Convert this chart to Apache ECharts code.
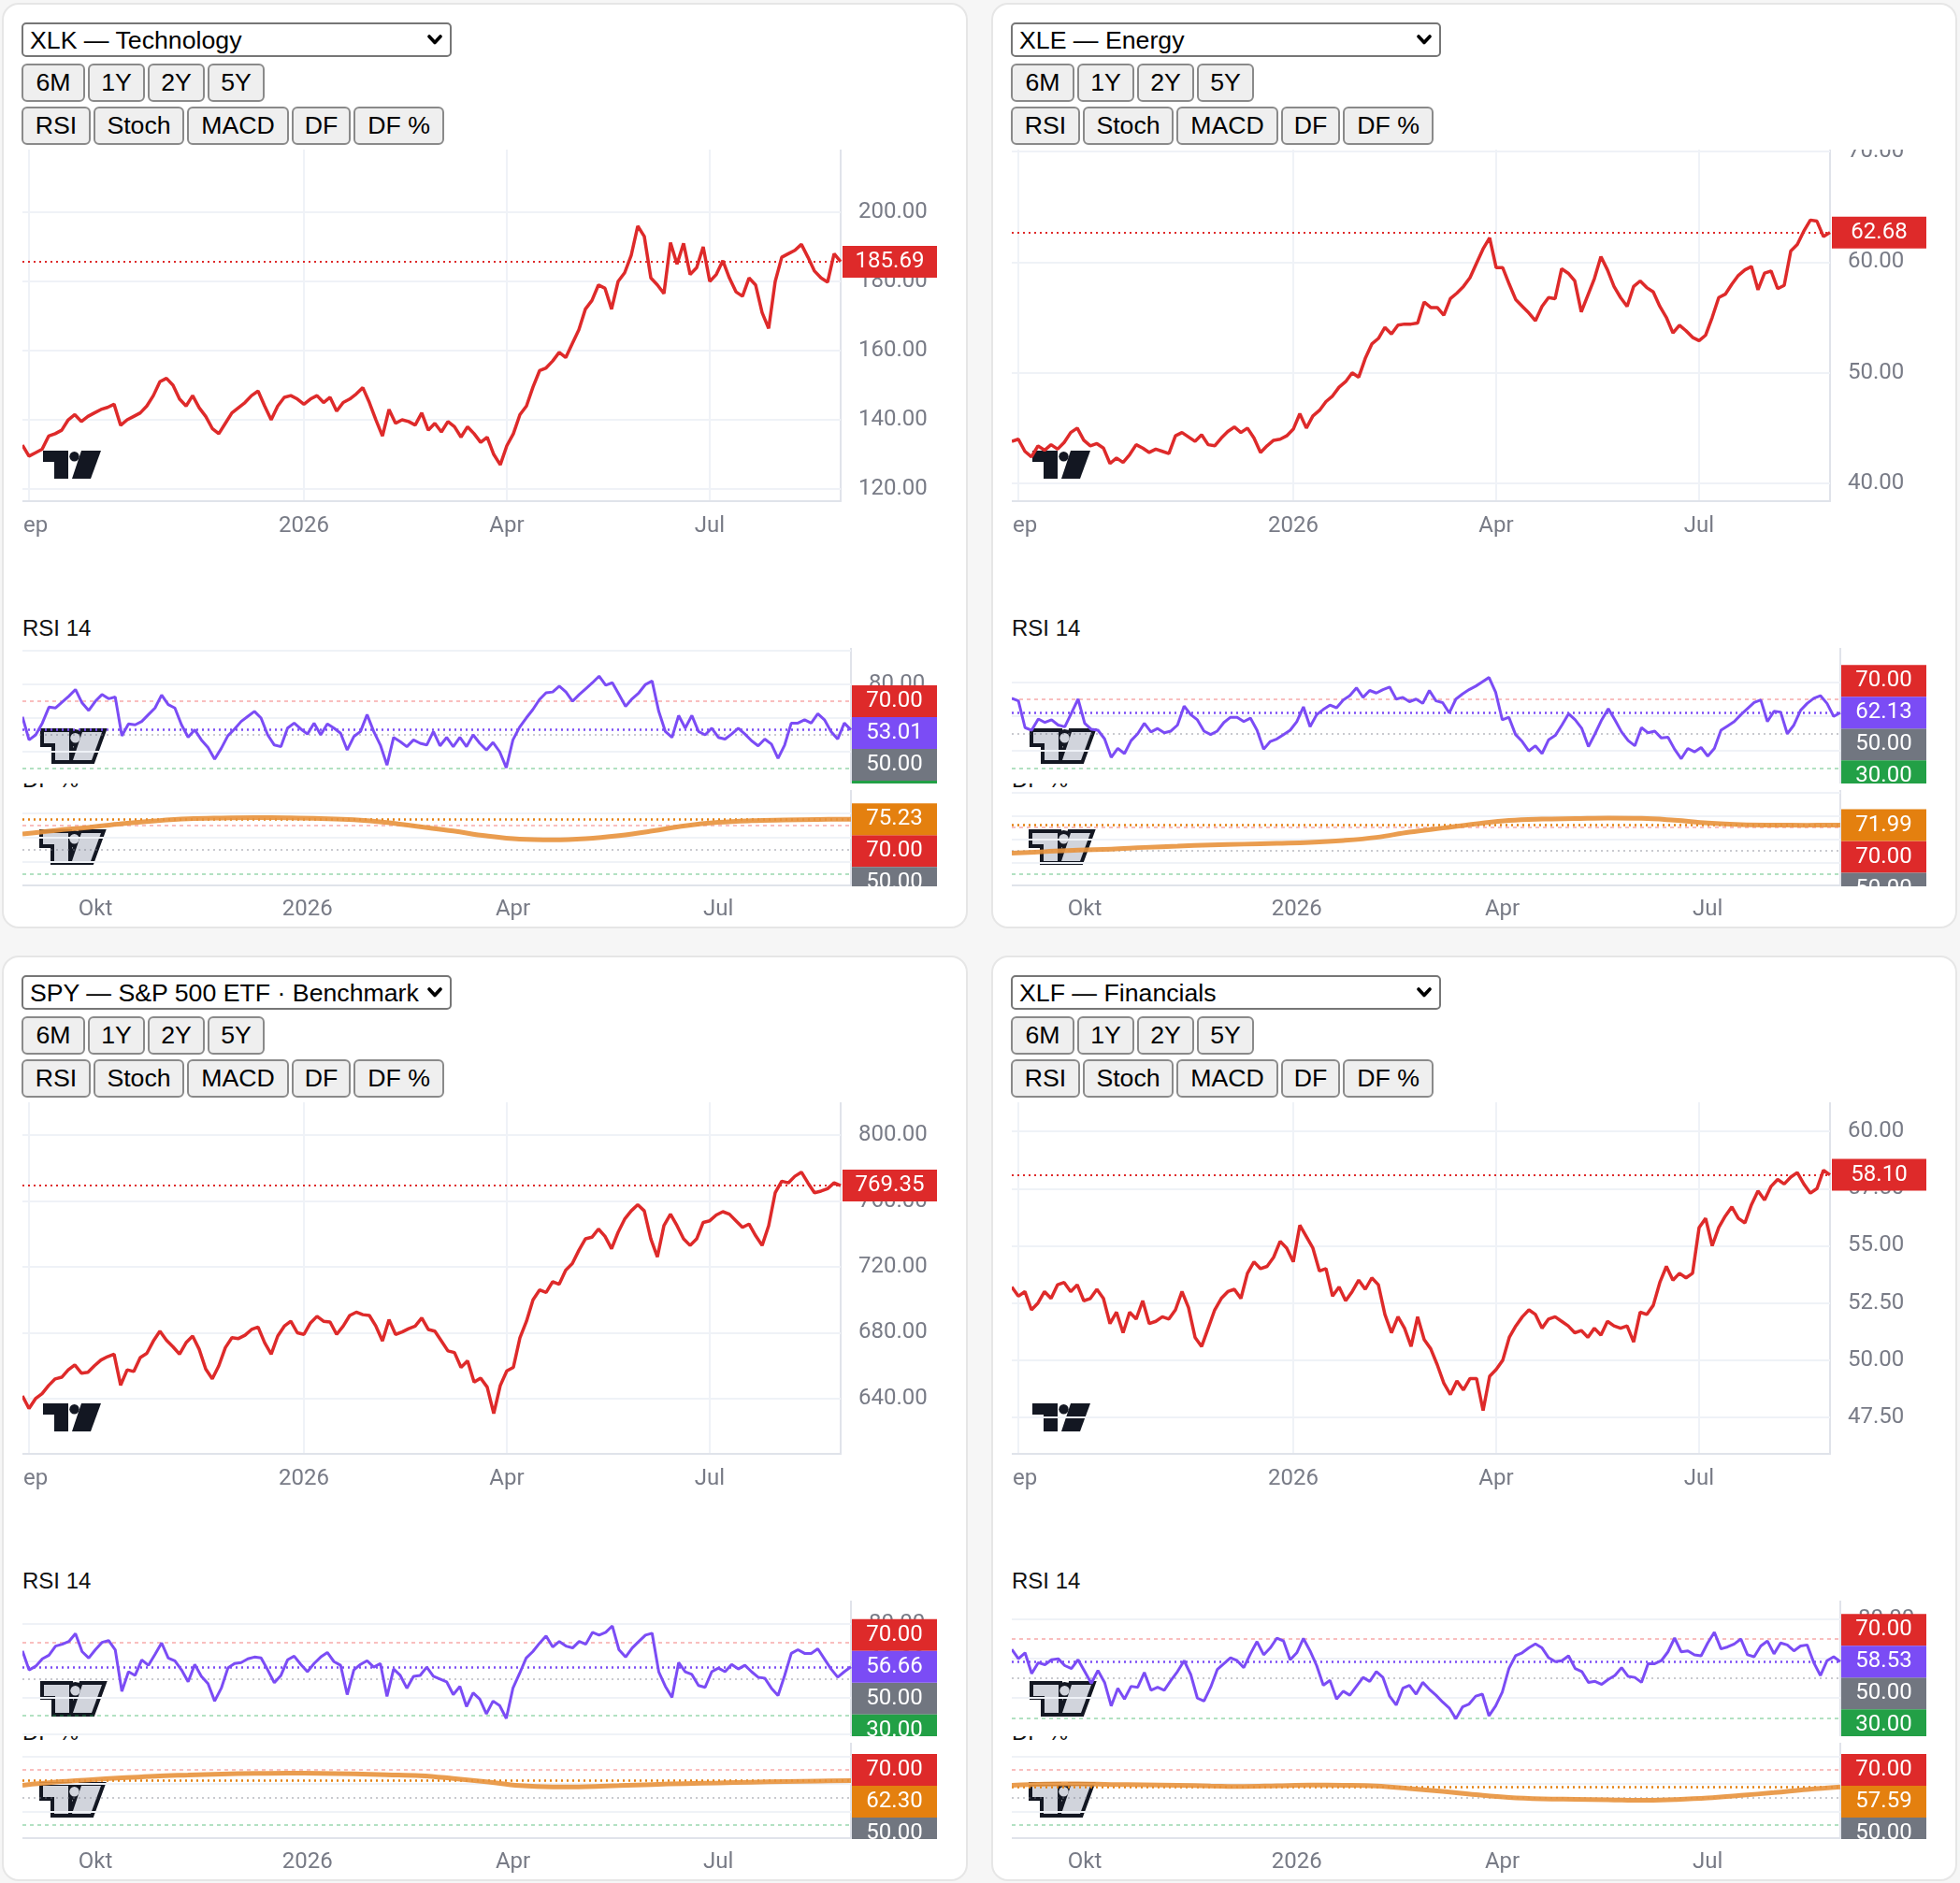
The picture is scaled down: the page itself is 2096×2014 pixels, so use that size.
<!DOCTYPE html>
<html lang="de">
<head>
<meta charset="utf-8">
<title>Sector ETF dashboard</title>
<script src="https://cdn.jsdelivr.net/npm/echarts@6.0.0/dist/echarts.min.js"></script>
<style>
  html, body { margin:0; padding:0; width:2096px; height:2014px; overflow:hidden; background:#f6f6f6; font-family:"Liberation Sans", Arial, sans-serif; }
  .card { position:absolute; width:1029px; height:986px; background:#fff; border:2px solid #e6e6e6; border-radius:18px; overflow:hidden; }
  .sel { position:absolute; left:19px; top:19px; width:460px; height:37px; box-sizing:border-box; font-family:"Liberation Sans", Arial, sans-serif; font-size:26.7px; color:#000;
         border:2px solid #767676; border-radius:5px; padding:0 30px 0 7px; -webkit-appearance:none; appearance:none;
         background:#fff url("data:image/svg+xml;utf8,<svg xmlns='http://www.w3.org/2000/svg' width='16' height='11' viewBox='0 0 16 11'><path d='M2 2 L8 8.5 L14 2' fill='none' stroke='black' stroke-width='3.6' stroke-linecap='round' stroke-linejoin='round'/></svg>") no-repeat right 8px center; }
  .row { position:absolute; left:19px; display:flex; gap:3px; }
  .row button { height:41px; box-sizing:border-box; padding:0; font-family:"Liberation Sans", Arial, sans-serif; font-size:26.7px; color:#000; background:#efefef; border:2px solid #8a8a8a; border-radius:6px; }
  .r1 { top:63px; } .r2 { top:109px; }
  .ttl { position:absolute; left:20px; font-size:24px; line-height:24px; color:#111; z-index:1; white-space:nowrap; }
  .t-rsi { top:655px; } .t-df { top:817px; }
  .ch { position:absolute; left:20px; background:#fff; z-index:2; }
  .c-main { top:155px; width:1010px; height:440px; }
  .c-rsi { top:688px; width:990px; height:145px; }
  .c-df { top:840px; width:990px; height:146px; }
</style>
</head>
<body>

<div class="card" style="left:2px;top:3px;">
  <select class="sel"><option>XLK — Technology</option></select>
  <div class="row r1"><button style="width:68px">6M</button><button style="width:61px">1Y</button><button style="width:61px">2Y</button><button style="width:61px">5Y</button></div>
  <div class="row r2"><button style="width:74px">RSI</button><button style="width:97px">Stoch</button><button style="width:109px">MACD</button><button style="width:63px">DF</button><button style="width:97px">DF %</button></div>
  <div class="ch c-main" id="xlk-main"></div>
  <div class="ttl t-rsi">RSI 14</div>
  <div class="ch c-rsi" id="xlk-rsi"></div>
  <div class="ttl t-df">DF %</div>
  <div class="ch c-df" id="xlk-df"></div>
</div>

<div class="card" style="left:1060px;top:3px;">
  <select class="sel"><option>XLE — Energy</option></select>
  <div class="row r1"><button style="width:68px">6M</button><button style="width:61px">1Y</button><button style="width:61px">2Y</button><button style="width:61px">5Y</button></div>
  <div class="row r2"><button style="width:74px">RSI</button><button style="width:97px">Stoch</button><button style="width:109px">MACD</button><button style="width:63px">DF</button><button style="width:97px">DF %</button></div>
  <div class="ch c-main" id="xle-main"></div>
  <div class="ttl t-rsi">RSI 14</div>
  <div class="ch c-rsi" id="xle-rsi"></div>
  <div class="ttl t-df">DF %</div>
  <div class="ch c-df" id="xle-df"></div>
</div>

<div class="card" style="left:2px;top:1022px;">
  <select class="sel"><option>SPY — S&amp;P 500 ETF · Benchmark</option></select>
  <div class="row r1"><button style="width:68px">6M</button><button style="width:61px">1Y</button><button style="width:61px">2Y</button><button style="width:61px">5Y</button></div>
  <div class="row r2"><button style="width:74px">RSI</button><button style="width:97px">Stoch</button><button style="width:109px">MACD</button><button style="width:63px">DF</button><button style="width:97px">DF %</button></div>
  <div class="ch c-main" id="spy-main"></div>
  <div class="ttl t-rsi">RSI 14</div>
  <div class="ch c-rsi" id="spy-rsi"></div>
  <div class="ttl t-df">DF %</div>
  <div class="ch c-df" id="spy-df"></div>
</div>

<div class="card" style="left:1060px;top:1022px;">
  <select class="sel"><option>XLF — Financials</option></select>
  <div class="row r1"><button style="width:68px">6M</button><button style="width:61px">1Y</button><button style="width:61px">2Y</button><button style="width:61px">5Y</button></div>
  <div class="row r2"><button style="width:74px">RSI</button><button style="width:97px">Stoch</button><button style="width:109px">MACD</button><button style="width:63px">DF</button><button style="width:97px">DF %</button></div>
  <div class="ch c-main" id="xlf-main"></div>
  <div class="ttl t-rsi">RSI 14</div>
  <div class="ch c-rsi" id="xlf-rsi"></div>
  <div class="ttl t-df">DF %</div>
  <div class="ch c-df" id="xlf-df"></div>
</div>

<script>
// ---------- calendar / categories ----------
const START_DATE = '2025-08-29';
const MARKET_HOLIDAYS = ['2025-09-01','2025-11-27','2025-12-25','2026-01-01','2026-01-19','2026-02-16','2026-04-03','2026-05-25','2026-06-19','2026-07-03'];
const TRADING_DAYS = 252;
const SAMPLE_STEP = 2;      // one reading every 2nd trading day
const DF_STEP = 5;          // DF % read every 5th sample
const MAIN_TICK_MONTHS  = ['2025-09','2026-01','2026-04','2026-07'];
const LOWER_TICK_MONTHS = ['2025-10','2026-01','2026-04','2026-07'];
const MONTH_NAMES = ['Jan','Feb','Mär','Apr','Mai','Jun','Jul','Aug','Sep','Okt','Nov','Dez'];

// ---------- price series (126 readings each) ----------
const xlkPrice = [132.7,129.5,130.5,131.5,135.3,136,137,140,141.5,139.5,
141,142,143,143.6,144.5,138.4,140,141,142,144,
147,151,152,150,146,144,147,143.5,141,137.5,
136,139,142,143.5,145,147,148.3,144,140,144,
146.5,147,146,144.5,146,147,145,146.5,142.5,145,
146,147.5,149.3,145,140,135.3,143,139,140,139.5,
138.5,142,137,139,136.5,139.5,138,135,138,136,
133.5,135,130,127,132.5,136,141.5,144,149.5,154.2,
155,157,159.5,158,162,166,172,174.5,179,178,
172,180,182.5,187.5,196,193,181,179,176.5,191.2,
185,191,182,184,190,180,182,186,181,177,
175.7,181,179,171,166.4,180,187,188,189,190.7,
187,183,181,179.8,188,185.69];

const xlePrice = [43.8,44.0,42.9,42.4,43.4,43.0,43.5,43.1,43.7,44.6,
45.0,43.9,43.4,43.6,43.2,41.8,42.3,41.9,42.6,43.5,
43.2,42.8,43.1,42.9,42.7,44.3,44.6,44.2,43.8,44.4,
43.5,43.4,44.1,44.7,45.1,44.6,45.0,44.1,42.8,43.4,
43.9,44.0,44.3,44.9,46.3,45.0,46.1,46.6,47.4,47.9,
48.7,49.2,50.0,49.6,51.3,52.6,53.1,54.1,53.5,54.3,
54.4,54.4,54.5,56.4,55.9,55.9,55.2,56.7,57.2,57.8,
58.6,59.9,61.2,62.2,59.5,59.5,58.0,56.6,56.0,55.4,
54.7,56.0,56.8,56.7,59.4,59.0,58.3,55.5,57.0,58.5,
60.5,59.3,57.8,56.8,56.0,57.8,58.3,57.7,57.3,56.0,
55.0,53.6,54.3,53.8,53.2,52.9,53.4,55.0,56.8,57.1,
58.0,58.8,59.3,59.6,57.5,59.0,59.2,57.6,57.9,61.0,
61.6,62.8,63.8,63.7,62.3,62.68];

const spyPrice = [641.7,634.0,640.0,643.0,648.0,652.0,653.0,657.5,660.5,655.5,
656.0,660.0,663.5,665.5,667.0,648.2,657.5,656.5,665.0,667.5,
675.0,681.0,675.5,671.5,667.0,674.0,678.0,670.0,658.0,652.0,
660.0,671.0,677.0,676.5,678.5,682.0,683.5,674.0,667.0,678.0,
684.0,687.0,680.0,679.0,686.0,690.0,687.0,686.5,679.0,684.0,
690.5,692.5,691.0,690.5,684.0,675.0,688.0,679.0,680.5,682.5,
684.0,689.0,682.0,681.0,675.0,669.0,668.0,659.0,663.0,650.0,
652.5,647.0,631.0,648.0,656.9,659.0,677.0,687.0,700.0,706.0,
704.5,711.0,709.5,718.0,722.0,730.0,737.0,738.0,743.0,738.5,
731.0,741.0,749.0,754.0,757.7,754.0,737.0,726.0,745.0,752.0,
745.0,737.0,733.0,737.0,747.0,748.0,751.5,753.5,752.0,748.0,
744.0,746.0,739.0,733.0,745.0,765.0,772.0,771.0,775.0,777.5,
771.0,765.0,766.0,767.5,771.0,769.35];

const xlfPrice = [53.2,52.8,53.0,52.2,52.5,53.0,52.7,53.3,53.4,53.0,
53.3,52.6,52.7,53.1,52.7,51.6,52.1,51.2,52.1,51.8,
52.6,51.6,51.7,51.9,51.8,52.2,53.0,52.3,51.0,50.6,
51.4,52.2,52.7,53.0,53.1,52.7,53.8,54.3,54.0,54.1,
54.5,55.2,54.9,54.3,55.9,55.4,54.9,53.9,54.0,52.8,
53.2,52.6,53.0,53.5,53.1,53.6,53.3,52.0,51.2,51.9,
51.4,50.6,51.9,50.9,50.5,49.8,49.0,48.5,49.1,48.7,
49.2,49.2,47.8,49.3,49.6,50.0,51.0,51.5,51.9,52.2,
52.0,51.4,51.8,51.9,51.7,51.5,51.2,51.3,51.0,51.4,
51.1,51.7,51.5,51.4,51.5,50.8,52.1,52.0,52.4,53.4,
54.1,53.5,53.8,53.6,53.8,55.8,56.2,55.0,55.8,56.3,
56.7,56.2,56.0,56.8,57.4,57.0,57.6,57.9,57.7,58.0,
58.2,57.7,57.3,57.5,58.3,58.10];

// ---------- RSI 14 series ----------
const xlkRsi = [60.7,47.0,50.0,57.0,66.5,66.0,69.5,73.0,77.0,69.0,
64.5,70.0,74.0,71.5,72.5,49.5,56.5,56.0,58.0,62.0,
66.0,73.7,68.0,66.0,56.0,48.6,53.0,47.0,42.5,35.6,
42.0,49.5,53.5,58.0,61.0,64.0,60.0,50.0,44.0,43.0,
54.0,57.0,53.5,50.5,57.0,50.0,56.5,54.0,51.0,41.0,
49.0,52.0,62.0,52.0,44.0,32.0,48.5,46.0,43.0,47.0,
45.0,44.0,52.0,43.5,48.5,43.0,48.5,43.0,50.0,45.0,
41.0,45.5,40.0,30.5,47.0,54.5,60.0,65.0,71.0,75.0,
75.5,79.0,75.5,70.0,74.0,77.5,81.0,84.9,79.5,81.0,
74.0,67.0,71.5,75.0,80.0,82.0,64.0,52.0,48.5,61.5,
54.0,61.5,52.0,50.0,54.0,48.5,47.5,50.5,54.0,50.5,
46.5,43.5,47.5,44.5,36.0,44.0,57.0,57.0,59.0,57.0,
62.6,59.0,52.0,47.5,57.0,53.01];

const xleRsi = [70.5,69.0,53.5,52.0,58.5,56.5,58.0,55.0,54.0,62.0,
70.0,56.0,52.5,52.0,47.0,36.3,41.5,38.5,46.0,50.0,
56.0,51.0,53.0,50.5,51.5,55.0,66.0,61.0,58.0,51.5,
49.5,51.5,56.5,59.5,59.5,57.0,59.0,52.0,41.0,45.5,
47.0,49.5,52.0,57.0,65.5,54.0,61.0,64.0,66.5,65.0,
69.5,72.0,76.5,71.0,75.0,73.5,75.5,77.0,70.0,71.0,
68.5,70.0,67.5,75.0,69.0,68.0,62.0,70.0,73.0,75.5,
77.5,80.0,82.5,74.0,58.0,59.5,49.5,45.5,40.0,43.0,
38.5,46.5,49.0,55.0,61.5,58.0,53.0,42.5,50.0,58.0,
64.5,58.0,51.0,46.0,43.0,53.5,50.5,51.5,47.5,48.0,
41.0,35.5,41.5,39.5,42.0,37.0,41.5,52.0,54.5,57.0,
61.0,64.5,68.0,69.5,57.0,63.0,62.5,50.0,55.0,63.5,
67.5,70.5,72.0,67.5,60.0,62.13];

const spyRsi = [65.4,55.0,57.0,61.0,63.0,68.0,69.0,70.5,74.8,65.0,
61.5,66.0,70.0,71.0,66.0,43.3,54.0,52.0,60.5,57.5,
63.5,69.7,61.5,60.0,55.0,48.5,58.0,51.5,47.5,38.0,
45.0,56.0,58.5,59.0,61.0,62.0,61.5,55.0,48.0,52.0,
60.5,62.5,58.0,54.0,58.5,62.0,64.5,59.5,57.5,41.5,
55.0,58.0,60.0,56.5,58.5,40.5,55.5,52.0,45.0,51.5,
52.0,56.5,51.5,50.0,48.5,41.5,46.0,35.0,42.5,39.0,
31.0,38.0,35.5,28.5,45.0,53.0,61.5,65.0,69.5,73.5,
67.5,70.5,68.0,67.0,70.5,69.0,75.5,74.0,75.5,79.0,
66.0,62.0,67.0,70.5,74.0,75.0,54.0,46.0,40.0,59.0,
54.0,52.5,46.5,45.5,54.0,56.0,54.0,58.0,55.5,57.5,
54.0,51.0,50.5,45.0,41.0,52.0,64.0,66.0,64.0,64.0,
66.5,61.0,55.5,51.0,54.0,56.66];

const xlfRsi = [64.8,60.0,63.0,52.5,58.0,57.0,59.5,60.0,56.5,55.0,
59.5,53.5,47.5,54.0,48.0,36.0,45.0,39.5,46.0,45.5,
53.0,44.0,45.5,44.0,49.0,53.5,59.0,52.0,40.0,38.5,
45.5,54.5,57.5,60.5,59.0,55.5,62.5,68.7,62.0,65.5,
70.5,69.0,59.5,63.0,70.3,64.0,56.5,46.5,49.0,39.5,
43.5,41.5,46.0,50.5,48.5,53.5,50.5,41.0,36.5,45.0,
46.5,42.0,48.0,44.5,41.5,38.0,35.0,29.5,35.5,37.0,
41.0,42.0,31.0,36.0,43.0,55.0,61.5,63.0,65.5,67.5,
65.5,60.5,58.5,59.0,61.5,55.0,53.5,48.0,48.5,47.0,
49.5,51.5,55.5,51.0,50.5,48.0,57.5,57.5,59.0,63.5,
70.5,63.5,64.0,62.0,61.5,68.0,73.5,65.0,66.0,67.5,
70.0,62.0,61.0,66.5,69.0,62.5,68.0,67.0,64.0,66.5,
67.0,58.0,51.5,59.0,61.0,58.53];

// ---------- DF % series (one reading every DF_STEP samples) ----------
const xlkDfPct = [63.0,66.0,68.5,71.5,73.8,75.5,76.2,76.5,76.3,75.8,74.8,72.5,69.0,65.5,61.5,58.8,58.2,59.2,61.8,65.5,69.8,72.6,74.0,74.6,75.0,75.23];
const xleDfPct = [47.9,49.3,50.6,51.4,52.9,54.0,55.0,55.7,56.4,57.2,58.8,61.5,66.0,69.5,73.0,76.0,77.2,77.6,78.0,77.8,76.2,73.8,72.4,72.0,71.9,71.99];
const spyDfPct = [58.9,61.2,62.8,64.2,65.5,66.3,67.0,67.4,67.6,67.5,67.1,66.5,65.8,63.8,61.4,58.6,57.6,57.8,58.6,59.4,60.1,60.6,61.1,61.5,61.9,62.30];
const xlfDfPct = [58.9,59.7,59.8,59.4,59.2,58.9,58.4,58.0,58.5,59.0,58.9,58.4,56.5,54.4,52.0,50.0,49.0,48.7,48.4,47.9,48.5,49.6,51.5,53.5,55.8,57.59];

// ---------- tick labels / levels ----------
const xlkPriceTicks = [120, 140, 160, 180, 200];
const xlePriceTicks = [40, 50, 60, 70];
const spyPriceTicks = [640, 680, 720, 760, 800];
const xlfPriceTicks = [47.5, 50, 52.5, 55, 57.5, 60];
const OSC_LEVELS = [70, 50, 30];
const OSC_GRID = [20, 40, 60, 80, 100];
const RSI_AXIS_TICKS = [40, 60, 80];

const PANELS = [
  { id:'xlk', price:xlkPrice, rsi:xlkRsi, df:xlkDfPct, ticks:xlkPriceTicks, priceRange:[116.5, 218.1], rsiRange:[21.1, 101.7], dfRange:[20.8, 99.2] },
  { id:'xle', price:xlePrice, rsi:xleRsi, df:xleDfPct, ticks:xlePriceTicks, priceRange:[38.4, 70.17], rsiRange:[21.2, 99.6],  dfRange:[20.4, 102.0] },
  { id:'spy', price:spyPrice, rsi:spyRsi, df:spyDfPct, ticks:spyPriceTicks, priceRange:[606.5, 819.9], rsiRange:[18.8, 92.8], dfRange:[20.5, 89.7] },
  { id:'xlf', price:xlfPrice, rsi:xlfRsi, df:xlfDfPct, ticks:xlfPriceTicks, priceRange:[45.91, 61.27], rsiRange:[20.65, 89.5], dfRange:[20.5, 89.7] }
];

// ---------- styling ----------
const C = { red:'#de2a2a', purple:'#7b4cf5', orange:'#e4800f', dfLine:'#e8923c', gray:'#717680', green:'#22a046',
            text:'#787b86', grid:'#eff2f7', border:'#e0e3ea',
            lvl70:'rgba(239,68,68,0.35)', lvl50:'rgba(120,123,134,0.4)', lvl30:'rgba(34,170,80,0.35)' };
const LEVEL_STYLE = { 70:{line:C.lvl70, type:[4,4], box:C.red}, 50:{line:C.lvl50, type:[2,4], box:C.gray}, 30:{line:C.lvl30, type:[4,4], box:C.green} };
const MAIN_W = 875, MAIN_H = 376, LOW_W = 886, RSI_H = 145, DF_H = 102, BOX_H = 34;
const FONT = 'Roboto';

// ---------- helpers ----------
function buildDates() {
  const out = [];
  const d = new Date(START_DATE + 'T12:00:00Z');
  let n = 0;
  while (n < TRADING_DAYS) {
    const s = d.toISOString().slice(0, 10);
    const dow = d.getUTCDay();
    if (dow !== 0 && dow !== 6 && MARKET_HOLIDAYS.indexOf(s) < 0) {
      if (n % SAMPLE_STEP === 0) out.push(s);
      n++;
    }
    d.setUTCDate(d.getUTCDate() + 1);
  }
  return out;
}
const dates = buildDates();
function monthLabel(v) { const m = parseInt(v.slice(5, 7), 10); return m === 1 ? v.slice(0, 4) : MONTH_NAMES[m - 1]; }
function tickSet(months) { return new Set(months.map(mo => dates.findIndex(d => d.slice(0, 7) === mo))); }
const last = a => a[a.length - 1];

// watermark logo (decoration)
const LOGO_T = [[0,0],[27,0],[27,30],[12,30],[12,12],[0,12]];
const LOGO_SLASH = [[41,0],[62,0],[51,30],[31,30]];
function logoShapes(style) {
  return [
    { type:'polygon', shape:{ points:LOGO_T }, style:style },
    { type:'circle', shape:{ cx:33.5, cy:6.3, r:5.2 }, style:style },
    { type:'polygon', shape:{ points:LOGO_SLASH }, style:style }
  ];
}
function logo(x, y, outlined) {
  const children = outlined
    ? logoShapes({ fill:'#131722', stroke:'#131722', lineWidth:8, lineJoin:'miter' }).concat(logoShapes({ fill:'#d1d4dc' }))
    : logoShapes({ fill:'#131722' });
  return { type:'group', x, y, z:50, silent:true, children };
}

function stackLabels(items, centerY) {
  items.forEach(it => { it.fy = it.y; });
  const top = items.filter(it => it.y < centerY).sort((a, b) => b.y - a.y);
  const bottom = items.filter(it => it.y >= centerY);
  if (top.length && bottom.length) bottom.push(top[0]);
  bottom.sort((a, b) => a.y - b.y);
  for (let j = 1; j < top.length; j++) { const prev = top[j - 1]; if (top[j].y > prev.fy - BOX_H) top[j].fy = prev.fy - BOX_H; }
  for (let j = 1; j < bottom.length; j++) { const prev = bottom[j - 1]; if (bottom[j].y < prev.fy + BOX_H) bottom[j].fy = prev.fy + BOX_H; }
}

function overlay(chart, labels, boxX, boxW, centerY, extra) {
  const items = labels.map(l => Object.assign({}, l, { y: chart.convertToPixel({ yAxisIndex: 0 }, l.value) }));
  stackLabels(items, centerY);
  const els = [];
  items.forEach(it => {
    els.push({ type:'rect', silent:true, z:100, shape:{ x:boxX, y:it.fy - BOX_H / 2, width:boxW, height:BOX_H }, style:{ fill:it.color } });
    els.push({ type:'text', silent:true, z:101, x:boxX + boxW / 2, y:it.fy,
      style:{ text:it.value.toFixed(2), fill:'#ffffff', fontSize:24, fontFamily:FONT, align:'center', verticalAlign:'middle', textAlign:'center', textVerticalAlign:'middle' } });
  });
  chart.setOption({ graphic: els.concat(extra || []) });
}

function gridLines(values, withLabels) {
  return values.map(v => ({
    yAxis: v,
    lineStyle: { color:C.grid, width:2, type:'solid' },
    label: withLabels && withLabels.indexOf(v) >= 0
      ? { show:true, position:'end', distance:19, formatter:() => v.toFixed(2), color:C.text, fontSize:24, fontFamily:FONT }
      : { show:false }
  }));
}
function levelLines() {
  return OSC_LEVELS.map(v => ({ yAxis:v, lineStyle:{ color:LEVEL_STYLE[v].line, width:2, type:LEVEL_STYLE[v].type }, label:{ show:false } }));
}
function hiddenY(range) {
  return { type:'value', position:'right', min:range[0], max:range[1],
    axisLine:{ show:true, lineStyle:{ color:C.border, width:2 } }, axisTick:{ show:false }, axisLabel:{ show:false }, splitLine:{ show:false } };
}
function gridBox(w, h) { return { left:0, top:0, width:w, height:h, containLabel:false, outerBoundsMode:'none' }; }
const MK = { silent:true, symbol:['none','none'], animation:false, emphasis:{ disabled:true } };

// ---------- charts ----------
PANELS.forEach(p => {
  // main price chart
  const mainTicks = tickSet(MAIN_TICK_MONTHS);
  const main = echarts.init(document.getElementById(p.id + '-main'));
  main.setOption({
    animation:false,
    grid: gridBox(MAIN_W, MAIN_H),
    xAxis:{ type:'category', data:dates, boundaryGap:false,
      axisLine:{ show:true, lineStyle:{ color:C.border, width:2 } }, axisTick:{ show:false },
      axisLabel:{ interval:(i) => mainTicks.has(i), formatter:(v) => monthLabel(v), color:C.text, fontSize:24, fontFamily:FONT, margin:15 },
      splitLine:{ show:true, interval:(i) => mainTicks.has(i), lineStyle:{ color:C.grid, width:2 } } },
    yAxis: hiddenY(p.priceRange),
    series:[
      { type:'line', data:[], silent:true, z:1, markLine:Object.assign({}, MK, { z:1, data:gridLines(p.ticks, p.ticks) }) },
      { type:'line', data:p.price, symbol:'none', showSymbol:false, silent:true, z:3, lineStyle:{ color:C.red, width:3.5 },
        markLine:Object.assign({}, MK, { z:2, data:[{ yAxis:last(p.price), lineStyle:{ color:C.red, width:2, type:[2,4] }, label:{ show:false } }] }) }
    ]
  });
  overlay(main, [{ value:last(p.price), color:C.red }], MAIN_W + 2, 101, -1, [logo(22, 322, false)]);

  // RSI chart
  const rsi = echarts.init(document.getElementById(p.id + '-rsi'));
  rsi.setOption({
    animation:false,
    grid: gridBox(LOW_W, RSI_H),
    xAxis:{ type:'category', data:dates, boundaryGap:false, show:false },
    yAxis: hiddenY(p.rsiRange),
    series:[
      { type:'line', data:[], silent:true, z:1, markLine:Object.assign({}, MK, { z:1, data:gridLines(OSC_GRID, RSI_AXIS_TICKS).concat(levelLines()) }) },
      { type:'line', data:p.rsi, symbol:'none', showSymbol:false, silent:true, z:3, lineStyle:{ color:C.purple, width:3 },
        markLine:Object.assign({}, MK, { z:2, data:[{ yAxis:last(p.rsi), lineStyle:{ color:C.purple, width:2.5, type:[2,4] }, label:{ show:false } }] }) }
    ]
  });
  overlay(rsi, OSC_LEVELS.map(v => ({ value:v, color:LEVEL_STYLE[v].box })).concat([{ value:last(p.rsi), color:C.purple }]),
    LOW_W + 1, 91, RSI_H / 2, [logo(23, 90, true)]);

  // DF % chart
  const lowTicks = tickSet(LOWER_TICK_MONTHS);
  const df = echarts.init(document.getElementById(p.id + '-df'));
  df.setOption({
    animation:false,
    grid: gridBox(LOW_W, DF_H),
    xAxis:{ type:'category', data:dates, boundaryGap:false,
      axisLine:{ show:true, lineStyle:{ color:C.border, width:2 } }, axisTick:{ show:false },
      axisLabel:{ interval:(i) => lowTicks.has(i), formatter:(v) => monthLabel(v), color:C.text, fontSize:24, fontFamily:FONT, margin:14 },
      splitLine:{ show:false } },
    yAxis: hiddenY(p.dfRange),
    series:[
      { type:'line', data:[], silent:true, z:1, markLine:Object.assign({}, MK, { z:1, data:gridLines(OSC_GRID, null).concat(levelLines()) }) },
      { type:'line', data:p.df.map((v, k) => [k * DF_STEP, v]), smooth:0.4, symbol:'none', showSymbol:false, silent:true, z:3,
        lineStyle:{ color:C.dfLine, width:5, opacity:0.9 },
        markLine:Object.assign({}, MK, { z:2, data:[{ yAxis:last(p.df), lineStyle:{ color:C.orange, width:2.5, type:[2,4] }, label:{ show:false } }] }) }
    ]
  });
  overlay(df, OSC_LEVELS.map(v => ({ value:v, color:LEVEL_STYLE[v].box })).concat([{ value:last(p.df), color:C.orange }]),
    LOW_W + 1, 91, -1,
    [logo(22, 46, true),
     { type:'rect', silent:true, z:110, shape:{ x:LOW_W + 1, y:DF_H + 1, width:200, height:100 }, style:{ fill:'#ffffff' } }]);
});
</script>
</body>
</html>
